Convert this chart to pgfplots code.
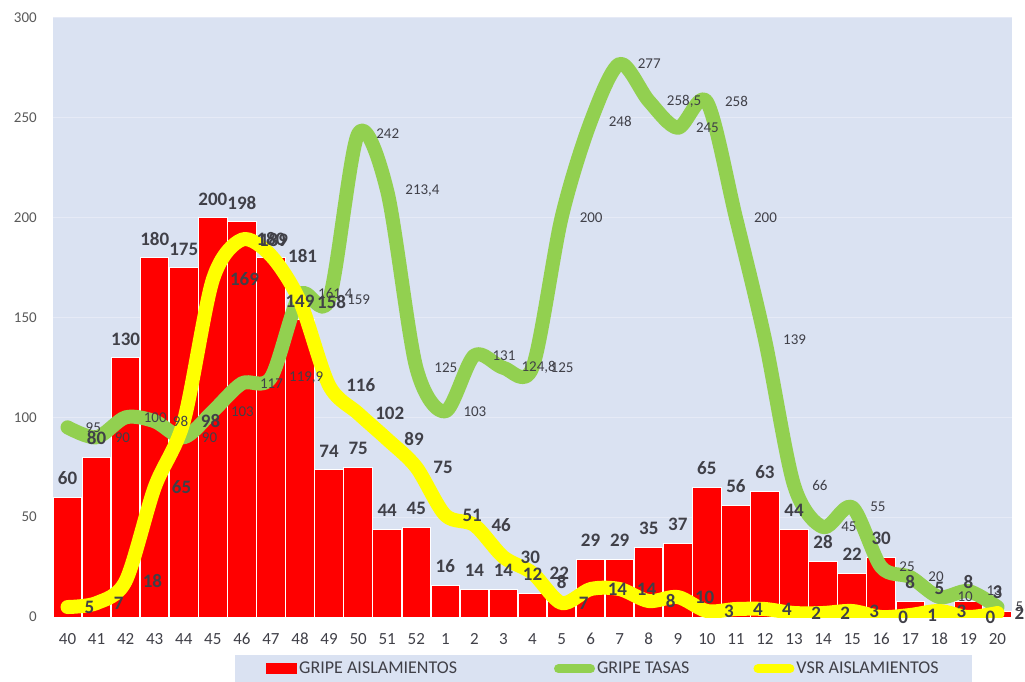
\documentclass[border=0pt]{standalone}
\usepackage{pgfplots}
\usepackage{pgfplotstable}
\pgfplotsset{compat=1.18}
\usepackage{fontspec}
\setmainfont{Carlito}
\definecolor{bg}{RGB}{218,226,242}
\definecolor{grn}{RGB}{146,208,80}
\definecolor{ylw}{RGB}{255,255,0}
\definecolor{rd}{RGB}{255,0,0}
\definecolor{lab}{RGB}{64,64,72}
\definecolor{ytk}{RGB}{89,89,89}
\definecolor{grd}{RGB}{230,234,246}

\pgfplotstableread{
x red green yellow
0 60 95 5
1 80 90 7
2 130 100 18
3 180 98 65
4 175 90 98
5 200 103 169
6 198 117 189
7 180 119.9 181
8 149 161.4 158
9 74 159 116
10 75 242 102
11 44 213.4 89
12 45 125 75
13 16 103 51
14 14 131 46
15 14 124.8 30
16 12 125 22
17 8 200 7
18 29 248 14
19 29 277 14
20 35 258.5 8
21 37 245 10
22 65 258 3
23 56 200 4
24 63 139 4
25 44 66 2
26 28 45 2
27 22 55 3
28 30 25 0
29 8 20 1
30 5 10 3
31 8 13 0
32 3 5 2
}\data

\pgfplotsset{
  base/.style={
    at={(0,0)}, anchor=south west,
    scale only axis, width=959pt, height=599pt,
    xmin=-0.5, xmax=32.5, ymin=0, ymax=300,
    /pgf/number format/assume math mode=true,
    /pgf/number format/use comma,
  },
}

\begin{document}
\begin{tikzpicture}
\useasboundingbox (-53pt,-64pt) rectangle (972pt,617pt);
\begin{axis}[
  base,
  axis background/.style={fill=bg},
  axis line style={draw=none},
  ytick={0,50,...,300},
  ymajorgrids, grid style={color=grd, line width=1pt},
  major tick length=0pt,
  xtick={0,...,32},
  xticklabels={40,41,42,43,44,45,46,47,48,49,50,51,52,1,2,3,4,5,6,7,8,9,10,11,12,13,14,15,16,17,18,19,20},
  yticklabel style={font=\fontsize{15}{15}\selectfont, text=ytk, inner sep=0pt, anchor=east, xshift=-16pt},
  xticklabel style={font=\fontsize{17}{17}\selectfont, text=lab, inner sep=0pt, anchor=north, yshift=-16pt},
  legend style={at={(0.1898,-0.0634)}, anchor=north west, fill=bg, draw=none,
    font=\fontsize{18}{18}\selectfont, text=lab, inner xsep=31pt, inner ysep=5pt,
    nodes={inner sep=2pt}},
  legend columns=3,
  legend cell align=left,
]
\addplot[ybar, bar width=28.5pt, fill=rd, draw=white, line width=1pt,
  legend image code/.code={\fill[rd] (0pt,-5pt) rectangle (30pt,5pt);}]
  table[x=x, y=red]{\data};
\addlegendentry{GRIPE AISLAMIENTOS\hspace*{95pt}}
\addplot[grn, line width=14pt, smooth, tension=0.5, line join=round, line cap=round, mark=none,
  legend image code/.code={\draw[grn, line width=9pt] (0pt,0pt) -- (32pt,0pt);}]
  table[x=x, y=green]{\data};
\addlegendentry{GRIPE TASAS\hspace*{62pt}}
\addplot[ylw, line width=14pt, smooth, tension=0.5, line join=round, line cap=round, mark=none,
  legend image code/.code={\draw[ylw, line width=9pt] (0pt,0pt) -- (32pt,0pt);}]
  table[x=x, y=yellow]{\data};
\addlegendentry{VSR AISLAMIENTOS}
\end{axis}
\begin{axis}[base, hide axis, clip=false]
\addplot[draw=none, mark=none, nodes near coords,
  nodes near coords style={anchor=west, inner sep=0pt, xshift=18pt,
    font=\fontsize{15}{15}\selectfont, text=lab}]
  table[x=x, y=green]{\data};
\addplot[draw=none, mark=none, nodes near coords,
  nodes near coords style={anchor=south, inner sep=0pt, yshift=12pt,
    font=\bfseries\fontsize{19}{19}\selectfont, text=lab}]
  table[x=x, y=red]{\data};
\addplot[draw=none, mark=none, nodes near coords,
  nodes near coords style={anchor=west, inner sep=0pt, xshift=17pt,
    font=\bfseries\fontsize{19}{19}\selectfont, text=lab}]
  table[x=x, y=yellow]{\data};
\end{axis}
\end{tikzpicture}
\end{document}
